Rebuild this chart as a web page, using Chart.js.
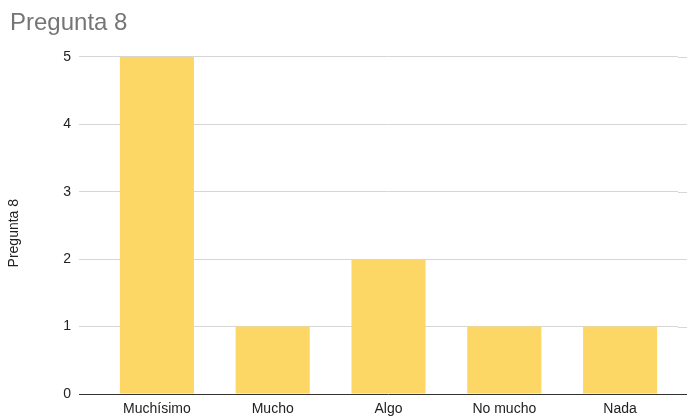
<!DOCTYPE html>
<html>
<head>
<meta charset="utf-8">
<script src="https://cdn.jsdelivr.net/npm/chart.js@4/dist/chart.umd.min.js"></script>
<style>
html,body{margin:0;padding:0;background:#fff;}
#wrap{width:687px;height:417px;position:relative;}
</style>
</head>
<body>
<div id="wrap"><canvas id="c" width="687" height="417"></canvas></div>
<script>
const chartTitle = "Pregunta 8";
const yAxisTitle = "Pregunta 8";
const categories = ["Muchísimo", "Mucho", "Algo", "No mucho", "Nada"];
const values = [5, 1, 2, 1, 1];
const yTicks = [0, 1, 2, 3, 4, 5];

const FONT = "'Liberation Sans', Arial, sans-serif";

const extendGrid = {
  id: 'extendGrid',
  beforeDatasetsDraw(chart) {
    const ys = chart.scales.y;
    const ctx = chart.ctx;
    const a = chart.chartArea;
    ctx.save();
    ys.ticks.forEach(t => {
      const y = Math.round(ys.getPixelForValue(t.value)) + 0.5;
      ctx.strokeStyle = t.value === 0 ? '#333333' : '#d6d6d6';
      ctx.lineWidth = 1;
      ctx.beginPath();
      ctx.moveTo(a.right, y);
      ctx.lineTo(chart.width, y);
      ctx.stroke();
    });
    ctx.restore();
  }
};

new Chart(document.getElementById('c'), {
  type: 'bar',
  data: {
    labels: categories,
    datasets: [{
      label: yAxisTitle,
      data: values,
      backgroundColor: '#FDD766',
      borderWidth: 0,
      barPercentage: 0.64,
      categoryPercentage: 1.0
    }]
  },
  options: {
    responsive: false,
    animation: false,
    devicePixelRatio: 1,
    layout: { padding: { left: 10, right: 9, top: 0, bottom: 0 } },
    plugins: {
      legend: { display: false },
      tooltip: { enabled: false },
      title: {
        display: true,
        text: chartTitle,
        align: 'start',
        color: '#757575',
        font: { family: FONT, size: 24, weight: 'normal' },
        padding: { top: 9, bottom: 19 }
      }
    },
    scales: {
      x: {
        grid: { display: false, drawTicks: false },
        border: { display: false },
        afterFit: s => { s.height = 23; },
        ticks: {
          color: '#222222',
          font: { family: FONT, size: 14 },
          padding: 7,
          maxRotation: 0,
          autoSkip: false
        }
      },
      y: {
        min: 0,
        max: 5,
        afterBuildTicks: s => { s.ticks = yTicks.map(v => ({ value: v })); },
        afterFit: s => { s.width = 89; },
        grid: {
          color: c => (c.tick && c.tick.value === 0) ? '#333333' : '#d6d6d6',
          tickColor: c => (c.tick && c.tick.value === 0) ? '#333333' : '#d6d6d6',
          tickLength: 20,
          drawTicks: true
        },
        border: { display: false },
        ticks: {
          color: '#222222',
          font: { family: FONT, size: 14 },
          padding: 8
        },
        title: {
          display: true,
          text: yAxisTitle + "    ",
          color: '#222222',
          font: { family: FONT, size: 14 },
          padding: { top: -4, bottom: 0 }
        }
      }
    }
  },
  plugins: [extendGrid]
});
</script>
</body>
</html>
